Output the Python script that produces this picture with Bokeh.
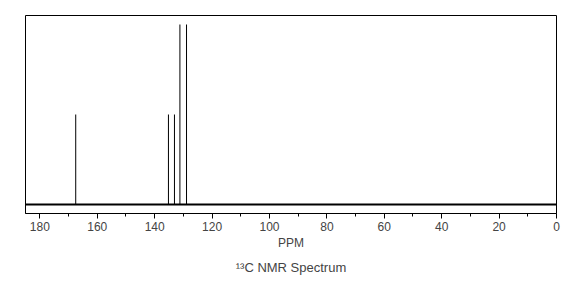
from bokeh.plotting import figure
from bokeh.models import Range1d, Span, FixedTicker
from bokeh.embed import file_html
from bokeh.resources import INLINE

# Data: 13C chemical shifts (ppm) and relative intensities
shifts = [167.5, 135.2, 133.1, 131.2, 128.9]
intensities = [0.5, 0.5, 0.5, 1.0, 1.0]
baseline = [0.0] * len(shifts)
major_ticks = [0, 20, 40, 60, 80, 100, 120, 140, 160, 180]
minor_ticks = [10, 30, 50, 70, 90, 110, 130, 150, 170]

FONT = "Liberation Sans"

p = figure(width=586, height=288, output_backend="svg", toolbar_location=None,
           x_range=Range1d(185, 0), y_range=Range1d(-0.05, 1.05),
           y_axis_location=None, min_border_left=25, min_border_right=30,
           min_border_top=15, min_border_bottom=75, title_location="below")

p.segment(x0=shifts, y0=baseline, x1=shifts, y1=intensities,
          line_color="black", line_width=1)

p.add_layout(Span(location=0, dimension="width", line_color="black", line_width=2))

p.xgrid.visible = False
p.ygrid.visible = False
p.outline_line_color = "black"
p.outline_line_width = 1

ax = p.xaxis[0]
ax.ticker = FixedTicker(ticks=major_ticks, minor_ticks=minor_ticks)
ax.axis_label = "PPM"
ax.axis_label_text_font = FONT
ax.axis_label_text_font_style = "normal"
ax.axis_label_text_font_size = "12px"
ax.axis_label_standoff = 2
ax.major_label_text_font = FONT
ax.major_label_text_font_size = "12px"
ax.major_label_standoff = 3
ax.axis_line_color = "black"
ax.major_tick_line_color = "black"
ax.minor_tick_line_color = "black"
ax.major_tick_out = 5
ax.major_tick_in = 0
ax.minor_tick_out = 3
ax.minor_tick_in = 0

p.title.text = "\u00b9\u00b3C NMR Spectrum"
p.title.align = "center"
p.title.text_font = FONT
p.title.text_font_style = "normal"
p.title.text_font_size = "13px"
p.title.standoff = 10

open("out.html", "w").write(file_html(p, INLINE))
